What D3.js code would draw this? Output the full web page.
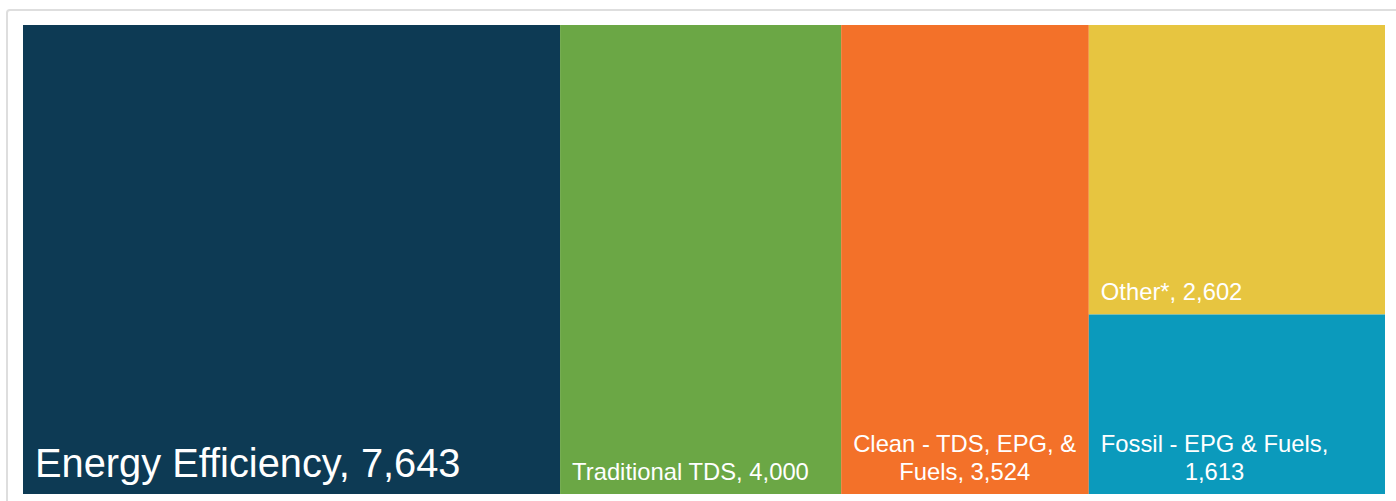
<!DOCTYPE html>
<html>
<head>
<meta charset="utf-8">
<script src="https://cdn.jsdelivr.net/npm/d3@7"></script>
<style>
  html, body { margin: 0; padding: 0; background: #fff; overflow: hidden; }
  svg { display: block; }
  text { font-family: "Liberation Sans", Arial, sans-serif; fill: #fff; }
</style>
</head>
<body>
<svg id="chart" width="1396" height="501"></svg>
<script>
// Data
const categories = ["Energy Efficiency", "Traditional TDS", "Clean - TDS, EPG, & Fuels", "Other*", "Fossil - EPG & Fuels"];
const values = [7643, 4000, 3524, 2602, 1613];
const groups = ["EE", "TDS", "Clean", "Rest", "Rest"];
const colors = ["#0d3a54", "#6ba745", "#f37129", "#e7c540", "#0b9abc"];

const W = 1396, H = 501;
const plot = { x0: 23, y0: 25, x1: 1385, y1: 494 };

const svg = d3.select("#chart");

// outer frame
svg.append("rect")
  .attr("x", 7).attr("y", 10)
  .attr("width", W + 20).attr("height", H + 20)
  .attr("rx", 3)
  .attr("fill", "none")
  .attr("stroke", "#dedede")
  .attr("stroke-width", 2);

// build hierarchy
const groupOrder = [];
const groupMap = new Map();
categories.forEach((c, i) => {
  const g = groups[i];
  if (!groupMap.has(g)) { groupMap.set(g, []); groupOrder.push(g); }
  groupMap.get(g).push({ name: c, value: values[i], color: colors[i] });
});
const rootData = {
  name: "root",
  children: groupOrder.map(g => {
    const items = groupMap.get(g);
    return items.length === 1 ? items[0] : { name: g, children: items };
  })
};

const root = d3.hierarchy(rootData).sum(d => d.children ? 0 : d.value);
d3.treemap()
  .tile(d3.treemapSliceDice)
  .size([plot.x1 - plot.x0, plot.y1 - plot.y0])
  .paddingInner(0)(root);

const g = svg.append("g").attr("transform", `translate(${plot.x0},${plot.y0})`);
const leaves = root.leaves();

g.selectAll("rect.cell")
  .data(leaves)
  .join("rect")
  .attr("class", "cell")
  .attr("x", d => d.x0)
  .attr("y", d => d.y0)
  .attr("width", d => d.x1 - d.x0)
  .attr("height", d => d.y1 - d.y0)
  .attr("fill", d => d.data.color);

// labels
const fmt = d3.format(",");
const maxVal = d3.max(values);
const pad = 12;

const measurer = svg.append("text").attr("visibility", "hidden");
function textWidth(s, fs) {
  measurer.attr("font-size", fs).text(s);
  return measurer.node().getComputedTextLength();
}

leaves.forEach(d => {
  const big = d.data.value === maxVal;
  const fs = big ? 39.8 : 23.8;
  const lh = 28;
  const label = `${d.data.name}, ${fmt(d.data.value)}`;
  const avail = (d.x1 - d.x0) - 18;
  const words = label.split(" ");
  const lines = [];
  let cur = "";
  words.forEach(w => {
    const test = cur ? cur + " " + w : w;
    if (cur && textWidth(test, fs) > avail) { lines.push(cur); cur = w; }
    else cur = test;
  });
  if (cur) lines.push(cur);
  const widths = lines.map(l => textWidth(l, fs));
  const blockW = d3.max(widths);
  const cx = d.x0 + pad + blockW / 2;
  const lastBase = d.y1 - 9 - 0.212 * fs;
  const t = g.append("text")
    .attr("font-size", fs)
    .attr("text-anchor", "middle");
  lines.forEach((l, i) => {
    t.append("tspan")
      .attr("x", cx)
      .attr("y", lastBase - lh * (lines.length - 1 - i))
      .text(l);
  });
});
measurer.remove();
</script>
</body>
</html>
